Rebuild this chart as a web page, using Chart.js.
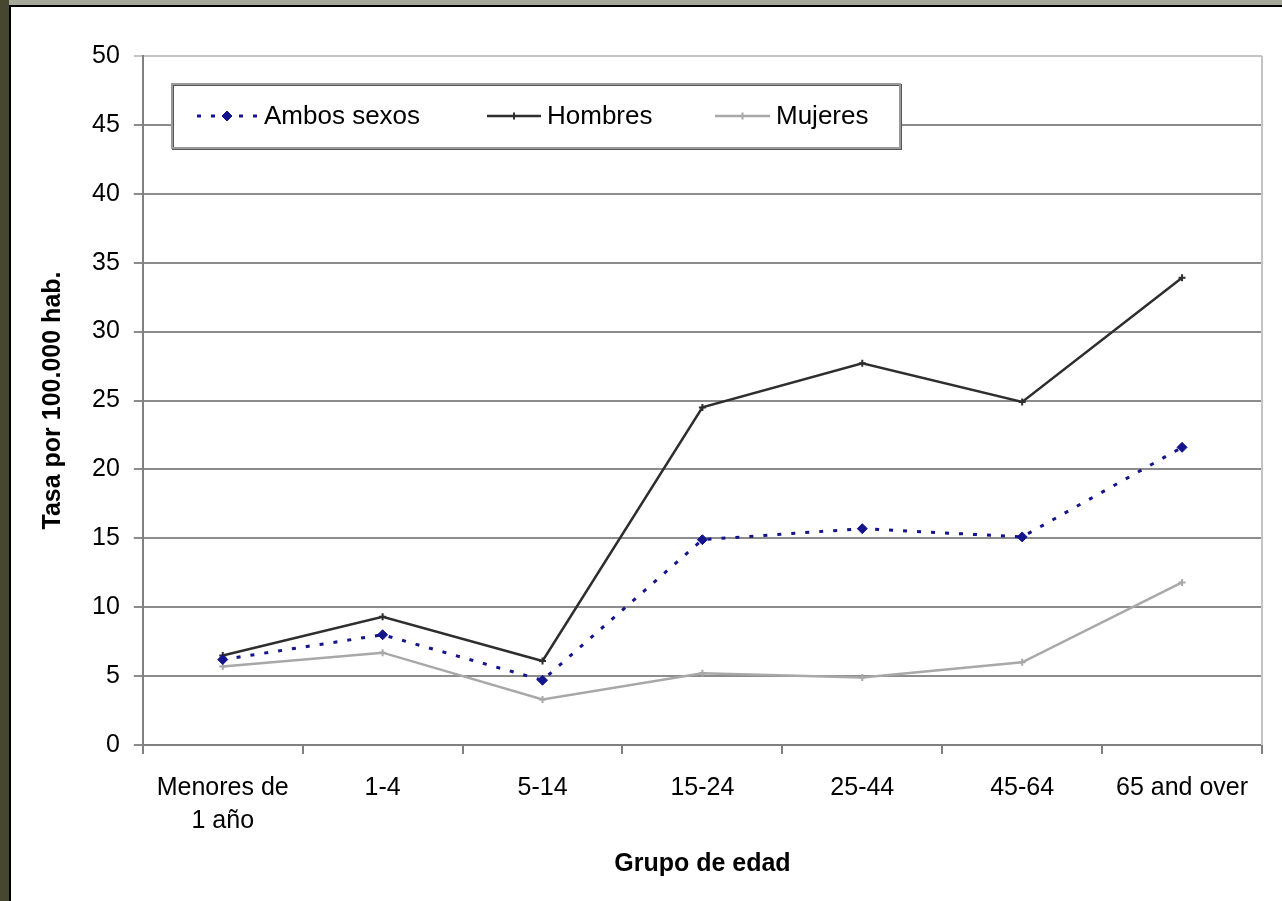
<!DOCTYPE html>
<html>
<head>
<meta charset="utf-8">
<script src="https://cdn.jsdelivr.net/npm/chart.js@4.4.1/dist/chart.umd.min.js"></script>
<style>
  html, body { margin: 0; padding: 0; background: #fff; }
  #frame { position: relative; width: 1282px; height: 901px; overflow: hidden; background: #fff; }
  #topStrip { position: absolute; left: 0; top: 0; width: 1282px; height: 5px; background: #a6a897; }
  #leftStrip { position: absolute; left: 0; top: 0; width: 9px; height: 901px; background: #474731; }
  #box { position: absolute; left: 9px; top: 5px; width: 1273px; height: 896px;
         border-left: 2px solid #000; border-top: 2px solid #000; background: #fff; }
  canvas { display: block; }
</style>
</head>
<body>
<div id="frame">
  <div id="topStrip"></div>
  <div id="leftStrip"></div>
  <div id="box"><canvas id="rateChart" width="1271" height="894"></canvas></div>
</div>
<script>
var ageGroups = [['Menores de', '1 año'], '1-4', '5-14', '15-24', '25-44', '45-64', '65 and over'];
var ambosSexos = [6.2, 8.0, 4.7, 14.9, 15.7, 15.1, 21.6];
var hombres = [6.5, 9.3, 6.1, 24.5, 27.7, 24.9, 33.9];
var mujeres = [5.7, 6.7, 3.3, 5.2, 4.9, 6.0, 11.8];
var yTicks = [0, 5, 10, 15, 20, 25, 30, 35, 40, 45, 50];

var fontFamily = "'Liberation Sans', Arial, sans-serif";

// legend drawn inside the plot, boxed like the original
var boxLegend = {
    id: 'boxLegend',
    afterDraw: function (chart) {
        var ctx = chart.ctx;
        var bx = 161, by = 77, bw = 728, bh = 64;
        var slots = [
            { x1: 186, x2: 246, tx: 253 },
            { x1: 476, x2: 530, tx: 536 },
            { x1: 704, x2: 759, tx: 765 }
        ];
        ctx.save();
        ctx.fillStyle = '#fff';
        ctx.fillRect(bx, by, bw, bh);
        ctx.strokeStyle = '#555';
        ctx.lineWidth = 2;
        ctx.strokeRect(bx + 1, by + 1, bw, bh);
        ctx.strokeStyle = '#9a9a9a';
        ctx.strokeRect(bx, by, bw, bh);

        var cy = by + bh / 2;
        chart.data.datasets.forEach(function (ds, i) {
            var s = slots[i];
            ctx.strokeStyle = ds.borderColor;
            ctx.lineWidth = ds.borderWidth;
            ctx.setLineDash(ds.borderDash || []);
            ctx.beginPath();
            ctx.moveTo(s.x1, cy);
            ctx.lineTo(s.x2, cy);
            ctx.stroke();
            ctx.setLineDash([]);
            ctx.fillStyle = ds.pointBackgroundColor;
            ctx.strokeStyle = ds.pointBorderColor;
            ctx.lineWidth = ds.pointBorderWidth;
            Chart.helpers.drawPoint(ctx, {
                pointStyle: ds.pointStyle, radius: ds.pointRadius,
                borderWidth: ds.pointBorderWidth, rotation: 0
            }, (s.x1 + s.x2) / 2, cy);
            ctx.fillStyle = '#000';
            ctx.font = '26px ' + fontFamily;
            ctx.textBaseline = 'middle';
            ctx.fillText(ds.label, s.tx, cy + 1);
        });
        ctx.restore();
    }
};

// light frame line on the right side of the plot
var rightBorder = {
    id: 'rightBorder',
    beforeDatasetsDraw: function (chart) {
        var a = chart.chartArea, ctx = chart.ctx;
        ctx.save();
        ctx.strokeStyle = '#c4c4c4';
        ctx.lineWidth = 2;
        ctx.beginPath();
        ctx.moveTo(a.right, a.top);
        ctx.lineTo(a.right, a.bottom);
        ctx.stroke();
        ctx.restore();
    }
};

var ctx = document.getElementById('rateChart').getContext('2d');
var chart = new Chart(ctx, {
    type: 'line',
    data: {
        labels: ageGroups,
        datasets: [{
            label: 'Ambos sexos',
            data: ambosSexos,
            borderColor: '#14148c',
            borderWidth: 3,
            borderDash: [4, 10],
            pointStyle: 'rectRot',
            pointRadius: 5,
            pointBackgroundColor: '#14148c',
            pointBorderColor: '#14148c',
            pointBorderWidth: 1,
            tension: 0
        }, {
            label: 'Hombres',
            data: hombres,
            borderColor: '#2e2e2e',
            borderWidth: 2.5,
            pointStyle: 'cross',
            pointRadius: 3.5,
            pointBackgroundColor: '#2e2e2e',
            pointBorderColor: '#2e2e2e',
            pointBorderWidth: 2,
            tension: 0
        }, {
            label: 'Mujeres',
            data: mujeres,
            borderColor: '#a8a8a8',
            borderWidth: 2.5,
            pointStyle: 'cross',
            pointRadius: 3.5,
            pointBackgroundColor: '#a8a8a8',
            pointBorderColor: '#a8a8a8',
            pointBorderWidth: 2,
            tension: 0
        }]
    },
    options: {
        responsive: false,
        animation: false,
        devicePixelRatio: 1,
        layout: { padding: { left: 20, top: 49, right: 20, bottom: 22 } },
        scales: {
            x: {
                offset: true,
                grid: { drawOnChartArea: false, offset: true, color: '#808080', lineWidth: 2, tickLength: 9 },
                border: { color: '#808080', width: 2 },
                ticks: {
                    color: '#000', maxRotation: 0, autoSkip: false, padding: 18,
                    font: { family: fontFamily, size: 25, lineHeight: 1.3 }
                },
                title: {
                    display: true, text: 'Grupo de edad', color: '#000',
                    font: { family: fontFamily, size: 25, weight: 'bold' },
                    padding: { top: -6, bottom: 0 }
                }
            },
            y: {
                min: 0,
                max: 50,
                afterBuildTicks: function (scale) {
                    scale.ticks = yTicks.map(function (v) { return { value: v }; });
                },
                grid: {
                    color: function (c) { return c.tick && c.tick.value === 50 ? '#c4c4c4' : '#8c8c8c'; },
                    lineWidth: 2, tickLength: 9
                },
                border: { color: '#808080', width: 2 },
                ticks: {
                    color: '#000', padding: 14,
                    font: { family: fontFamily, size: 25 }
                },
                title: {
                    display: true, text: 'Tasa por 100.000 hab.', color: '#000',
                    font: { family: fontFamily, size: 25, weight: 'bold' },
                    padding: { top: 7, bottom: 10 }
                }
            }
        },
        plugins: {
            legend: { display: false },
            tooltip: { enabled: false }
        }
    },
    plugins: [rightBorder, boxLegend]
});
</script>
</body>
</html>
